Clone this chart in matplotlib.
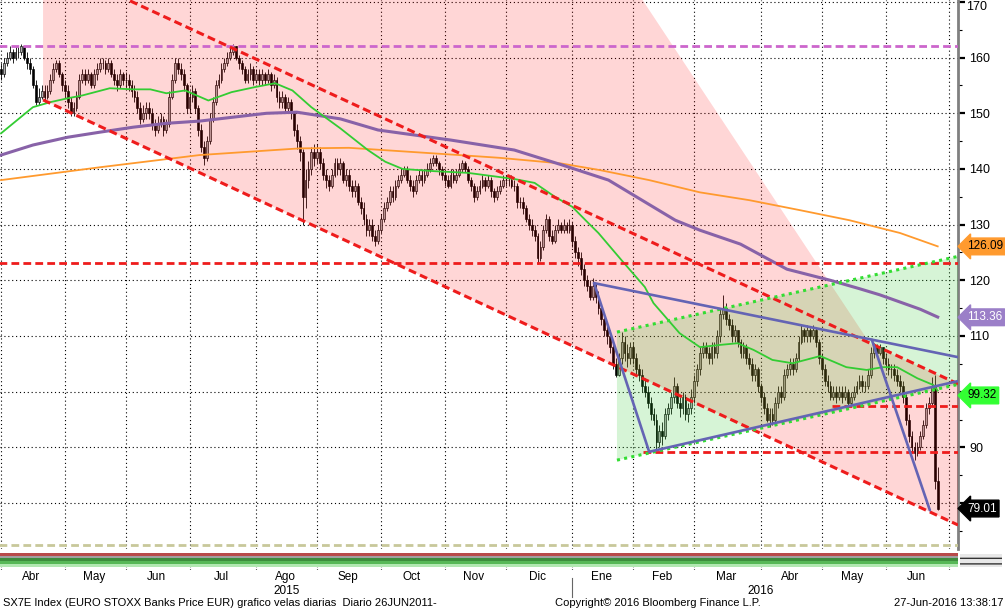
import numpy as np
import pandas as pd
import matplotlib
matplotlib.use("Agg")
import matplotlib.pyplot as plt
from matplotlib.patches import Polygon, Rectangle
from matplotlib.lines import Line2D
from matplotlib.transforms import blended_transform_factory

plt.rcParams['font.family'] = ['Liberation Sans', 'DejaVu Sans']

# sesiones diarias 01-abr-2015 .. 27-jun-2016
dias = pd.bdate_range('2015-04-01', '2016-06-27')

# velas (abr15 .. jun16)
aperturas = [
    158,157,159,160,161,160,161,161,162,160,159,158,155,152,153,154,153,154,156,158,159,157,
    155,154,152,150,151,153,156,157,156,157,155,157,158,159,159,158,159,157,156,155,157,
    156,156,155,154,153,151,149,150,151,150,148,147,148,149,147,148,153,156,159,158,157,155,
    151,153,154,151,147,144,142,145,149,152,155,156,158,159,160,161,162,160,159,158,156,157,158,
    156,157,156,157,156,157,155,156,153,152,153,151,152,150,147,145,143,135,138,140,143,
    142,143,141,139,138,137,139,141,140,141,138,139,137,136,137,134,133,131,129,130,128,127,
    129,131,133,134,136,135,137,138,139,140,138,137,136,138,139,138,139,140,141,142,141,140,
    139,138,137,139,138,139,140,141,140,138,137,135,136,137,138,137,138,136,135,136,137,
    138,138,138,137,137,134,134,133,131,130,129,128,124,126,129,131,128,127,129,130,129,130,129,
    130,127,125,124,122,120,119,117,119,117,115,113,111,110,108,105,103,106,109,107,106,
    108,106,104,103,101,100,98,96,95,91,93,92,96,97,99,101,98,97,99,96,97,
    99,102,104,107,108,107,106,108,107,110,114,115,113,112,110,111,109,107,108,106,105,103,104,
    101,99,97,95,96,95,98,100,99,103,104,105,104,106,109,111,110,111,110,111,109,
    106,104,102,101,99,100,99,100,99,100,98,99,100,101,102,101,101,103,107,108,107,108,
    106,105,104,104,103,102,101,99,95,92,90,89,90,92,94,97,98,101,84,
]
maximos = [
    159,160,161,162,161.5,162,162,162.5,162,161,160,158.5,156,154.5,155,155,155,157,159,159.5,159.5,157.5,
    156,155,153,152,154,157,158,158,158,157.5,158,159,160,160,159.5,160,159.5,158,157,158,157.5,
    157.5,157,156,155,154,152,151.5,152,152,151,149,149.5,150,149.5,149,154,157,160,160,159,158,155.5,
    154,155,154.5,151.5,148,145,146,150,153,156,157,159,160,161,162,162.5,162,160.5,159.5,158.5,158,159,158.5,
    158,158,158,157.5,158,157.5,157,156.5,154,154,153.5,153,152.5,150.5,148,146,143.5,140,141.5,144,144.5,
    144.5,144,142,140,139,140,142,142,142,141.5,140,140,138,138,137.5,135,134,132,131,131,129,130,
    132,134,135,137,137,138,139,140,140.5,140.5,139,138,139,140,140,140,141,142,142.5,142.5,141.5,140.5,
    140,139,140,140,140,141,141.6,141.5,140.5,138.5,137.5,137,138,139,138.5,139,138.5,136.5,137,138,139,
    139,139,139,138,137.5,135,135,133.5,132,131,130,128.5,127,130,132,131.5,129,130,131,130.5,131,130.5,131,
    130.5,128,126,125,123,121,120,120.5,119.5,118,116,114,112,111,109,106,107,110.7,110,108.5,109,
    109,107,105,104,102.5,101,99,97,96,94,94.5,97,98,100,102.6,101.5,99,100,99.5,98,100.5,
    103,105,108,109,109,108,109,109,111,115,117.3,116,114,113,112,111,109.5,109,108.5,107,106,105,104.5,
    101.5,100,98,97,97,99,101,101,104,105,106,106,107,110,112,111.5,112,111.5,112,111.5,109.5,
    107,105,103,102,101,101,101,101,101,100.5,100,101,102,103,103,102,104,108,108.7,108.5,108.5,108,
    107,106,105,105,104,103,102,99.5,96,93,91,91,93,95,98,99,102.6,103,86.5,
]
minimos = [
    156,156.5,158.5,159.5,159,159.5,160,160.5,159.5,158,157,154.5,151.5,151.5,152.5,152,152.5,153.5,155.5,157.5,156.5,154,
    153,151,149.5,149.5,150.5,152.5,155.5,155,155.5,154.5,154.5,156,157.5,158,157,157.5,156.5,155,154,154.5,155,
    154.5,154,153,152,150,148,148.5,149,149,147,146,146.5,147.5,146,146.5,147.5,152.5,155.5,157,156,154,150,
    150,152,150,146,143,140.7,141.5,144.5,148.5,151.5,154.5,155.5,157.5,158.5,159.5,160.5,159.5,158,157,155.5,155.5,156,155,
    155.5,155,155,155,155.5,154,154.5,152,151,151,150,150.5,149,146,143.5,141.5,130,133,136.5,139,140.5,
    141,140,138,136.5,136,136.5,138.5,139,139,137.5,137,136,135,135,133.5,132,130,128,128,127,126.2,126.5,
    128.5,130.5,132.5,133.5,134,134.5,136.5,137.5,138.5,137.5,136,135,135.5,137.5,137,137.5,138.5,139.5,140.5,140.5,139,138,
    137,136.5,136.5,137.5,137.5,138.5,139.5,139.5,137.5,136,134,134.5,135.5,136.5,136,136.5,135,134,134.5,135.5,136.5,
    137,137,136.5,136,133,133,132,130.5,129,128,127,123,123.5,125.5,128.5,127,126.5,126.7,128.5,128.5,128.5,128.5,128.5,
    126,124,122.5,121,119,118,116.5,116.5,116,114,112,110,108.5,107,104,102.6,102.8,105,105.5,104.5,105,
    105,103,102,100,99,97,95,94,89.5,90,90.5,91.5,95,96,98,97,95.5,96,95,94.5,96,
    98,101,103,106,106,105,105,106,106,109,113,112,111,109,109,108,106,106,105,104,102,102,100,
    98,96,94.5,93.7,94,94.5,97,98,98.5,102.5,103,103,103.5,105.5,108.5,109,109,109,109.5,108,105,
    103,101,100,98.5,98.5,98,98.5,98,98.5,97.5,97.5,98.5,99.5,100.5,100,100,100.5,102.5,106,106,106.5,105,
    104,103,102.5,102,101,100,98,94,91,89,87.7,88.5,89.5,91.5,93.5,96,97.5,82.5,78.8,
]
cierres = [
    157,159,160,161,160,161,161,162,160,159,158,155,152,153,154,153,154,156,158,159,157,155,
    154,152,150,151,153,156,157,156,157,155,157,158,159,159,158,159,157,156,155,157,156,
    156,155,154,153,151,149,150,151,150,148,147,148,149,147,148,153,156,159,158,157,155,151,
    153,154,151,147,144,142,145,149,152,155,156,158,159,160,161,162,160,159,158,156,157,158,156,
    157,156,157,156,157,155,156,153,152,153,151,152,150,147,145,143,135,138,140,143,142,
    143,141,139,138,137,139,141,140,141,138,139,137,136,137,134,133,131,129,130,128,127,129,
    131,133,134,136,135,137,138,139,140,138,137,136,138,139,138,139,140,141,142,141,140,139,
    138,137,139,138,139,140,141,140,138,137,135,136,137,138,137,138,136,135,136,137,138,
    138,138,137,137,134,134,133,131,130,129,128,124,126,129,131,128,127,129,130,129,130,129,130,
    127,125,124,122,120,119,117,119,117,115,113,111,110,108,105,103,106,109,107,106,108,
    106,104,103,101,100,98,96,95,91,93,92,96,97,99,101,98,97,99,96,97,99,
    102,104,107,108,107,106,108,107,110,114,115,113,112,110,111,109,107,108,106,105,103,104,101,
    99,97,95,96,95,98,100,99,103,104,105,104,106,109,111,110,111,110,111,109,106,
    104,102,101,99,100,99,100,99,100,98,99,100,101,102,101,101,103,107,108,107,108,106,
    105,104,104,103,102,101,99,95,92,90,89,90,92,94,97,98,101,84,79.01,
]

# medias moviles (indice de sesion, precio)
mm50_x = [0,11,17,23,28,37.5,45.5,51.5,57,63.5,71.5,79.5,87.5,94.5,100.5,107,117,126.5,132.5,138.5,
          149.5,161,177,184,191,197,202.5,206,214,222,225,230,234,241,248,254,259.5,266,273,282.5,
          291.5,298.5,304,309,316,321.5,323]
mm50_y = [146.4,151.1,152,152.7,153.2,154.5,154.3,154.3,153.6,154.1,152.3,153.8,154.7,155.4,154.1,
          151.1,147.3,143.4,141.3,140,139.6,139.3,138.2,137.5,135,133.2,130.3,128.5,123.6,118.8,
          115.9,112.9,110.5,108,108.4,108.7,107.5,105.7,105.1,106.4,104.4,103.9,104.4,104.4,102.4,
          101.2,100.2]
mm100_x = [0,11,23,34,45.5,57,68.5,80,91.5,102,117,130,155,177,193,209.5,232.5,241,255,271,286,
           296,303,310,317,323]
mm100_y = [142.5,144.3,145.7,146.6,147.5,148.2,148.6,149.3,150,150.2,149,147,145.2,143.4,140.8,
           138,130.8,129,126.5,122,120,118.5,117.4,116.1,114.8,113.4]
mm200_x = [0,34,68.5,103,120,137.5,155,172,193,206.5,223.5,241,258,275.5,292.5,310,323]
mm200_y = [138,140.3,142.5,143.7,143.8,143.2,142.6,142,141,139.8,138,135.8,134.4,132.6,130.8,
           128.5,126.1]

# trazos del analista (indice de sesion, precio)
canal_sup = ([44.5, 330.0], [170.2, 101.4])
canal_inf = ([14.5, 330.0], [152.4, 76.05])
tri_sup = ([204.5, 330.0], [119.5, 106.2])
tri_izq = ([204.5, 223.5], [119.5, 89.2])
tri_inf = ([223.5, 330.0], [89.2, 101.9])
caida = ([300.3, 320.3], [109.3, 78.7])
verde_sup = ([212.4, 330.0], [110.7, 124.3])
verde_inf = ([212.4, 330.0], [87.7, 101.3])
zona_rosa = [(14.5, 171), (220.4, 171), (299.7, 108.6), (330, 101.4), (330, 76.05), (14.5, 152.4)]
zona_verde = [(212.4, 110.7), (330, 124.3), (330, 101.3), (212.4, 87.7)]
niveles = [(162.1, -1, '#cc66cc'), (123.1, -1, '#ee1c1c'), (97.4, 286.7, '#ee1c1c'),
           (89.2, 221.5, '#ee1c1c'), (72.4, -1, '#c8c89a')]
etiquetas = [(126.09, '#ff9a2e', 'black'), (113.36, '#9b7fc8', 'white'),
             (99.32, '#33ff33', 'black'), (79.01, 'black', 'white')]
marcas_y = [90, 110, 120, 130, 140, 150, 160]
meses = ['Abr', 'May', 'Jun', 'Jul', 'Ago', 'Sep', 'Oct', 'Nov', 'Dic',
         'Ene', 'Feb', 'Mar', 'Abr', 'May', 'Jun']

n = len(cierres)
x = np.arange(n)
o = np.array(aperturas, float)
c = np.array(cierres, float)
h = np.maximum(np.array(maximos, float), np.maximum(o, c))
l = np.minimum(np.array(minimos, float), np.minimum(o, c))

W, H = 1005, 610
fig = plt.figure(figsize=(W / 100, H / 100), dpi=100)
ax = fig.add_axes([0, 1 - 549 / H, 958 / W, 549 / H])
ax.set_xlim(-0.35, 330)
ax.set_ylim(71.74, 170.35)

# velas
ax.vlines(x, l, h, color='black', lw=0.6, zorder=2)
sube = c >= o
ax.bar(x[sube], (c - o)[sube], bottom=o[sube], width=0.62, color='#b0b0b0',
       edgecolor='black', lw=0.45, zorder=2)
ax.bar(x[~sube], (c - o)[~sube], bottom=o[~sube], width=0.62, color='black',
       edgecolor='black', lw=0.45, zorder=2)

# zonas sombreadas
ax.add_patch(Polygon(zona_rosa, closed=True, fc=(1, 0, 0), alpha=0.16, ec='none', zorder=3))
ax.add_patch(Polygon(zona_verde, closed=True, fc=(0.2, 0.8, 0.2), alpha=0.2, ec='none', zorder=3))

# medias
ax.plot(mm200_x, mm200_y, color='#ff9a2e', lw=1.3, zorder=4)
ax.plot(mm100_x, mm100_y, color='#8862a8', lw=2.2, zorder=4)
ax.plot(mm50_x, mm50_y, color='#33cc33', lw=1.3, zorder=4)

# niveles horizontales
for val, x0, col in niveles:
    ax.plot([x0, 330], [val, val], color=col, lw=2.0, dashes=(2.8, 1.5), zorder=5)

# canal bajista
for xs, ys in (canal_sup, canal_inf):
    ax.plot(xs, ys, color='#ee1c1c', lw=2.2, dashes=(2.6, 1.4), zorder=5)
# canal verde
for xs, ys in (verde_sup, verde_inf):
    ax.plot(xs, ys, color='#33dd33', lw=2.2, dashes=(1.0, 1.4), zorder=5)
# triangulo
for xs, ys in (tri_sup, tri_izq, tri_inf, caida):
    ax.plot(xs, ys, color='#6464b4', lw=1.9, zorder=6, solid_capstyle='round')

# ejes
meses_ini = pd.bdate_range('2015-04-01', '2016-07-01')
inicio = [i for i in range(len(meses_ini)) if i == 0 or meses_ini[i].month != meses_ini[i - 1].month]
ax.set_xticks(inicio)
ax.tick_params(axis='x', length=0, labelbottom=False)
ax.yaxis.tick_right()
ax.set_yticks(range(80, 171, 10))
ax.set_yticklabels([str(v) if v in marcas_y else '' for v in range(80, 171, 10)])
ax.set_yticks(range(75, 171, 5), minor=True)
ax.tick_params(axis='y', which='major', length=5, width=1.6, pad=3, labelsize=9, colors='black')
ax.tick_params(axis='y', which='minor', length=3, width=0.8)
ax.grid(True, which='major', color='black', lw=0.8, ls=(0, (1, 2.5)), zorder=1)
for s in ('left', 'top', 'bottom'):
    ax.spines[s].set_visible(False)
ax.spines['right'].set_color('#808080')
ax.spines['right'].set_linewidth(2)
fig.text(966 / W, 1 - 7 / H, '170', ha='left', va='center', fontsize=9)

for val, fc, tc in etiquetas:
    ax.annotate(f'{val:.2f}', xy=(1.0, val), xycoords=('axes fraction', 'data'),
                xytext=(6.5, 0), textcoords='offset points', va='center', ha='left',
                fontsize=8.5, color=tc, annotation_clip=False, zorder=10,
                bbox=dict(boxstyle='larrow,pad=0.2', fc=fc, ec=fc))

# franja inferior
ax2 = fig.add_axes([0, 1 - 570 / H, 958 / W, 20 / H], sharex=ax)
ax2.set_ylim(0, 20)
for y0, y1, col in ((14, 17, '#b84a4a'), (12, 14, '#a0a0a0'), (9, 12, '#3d8d3d'),
                    (6, 9, '#57b857'), (3, 6, '#b2e8b2')):
    ax2.axhspan(y0, y1, color=col, lw=0)
ax2.vlines(inicio, 0, 3, color='black', lw=0.8, linestyles=(0, (1, 1.5)))
ax2.axis('off')
fig.add_artist(Rectangle((960 / W, 1 - 567 / H), 42 / W, 13 / H, transform=fig.transFigure,
                         fc='#e8e8e8', ec='#333333', hatch='---', lw=0))

tr = blended_transform_factory(ax.transData, fig.transFigure)
bordes = inicio[:len(meses) + 1]
for k, m in enumerate(meses):
    ax.text((bordes[k] + bordes[k + 1]) / 2 - 0.5, 1 - 577 / H, m, transform=tr,
            ha='center', va='center', fontsize=8.5)
ax.text((bordes[0] + bordes[9]) / 2, 1 - 591 / H, '2015', transform=tr, ha='center', va='center', fontsize=8.5)
ax.text((bordes[9] + bordes[15]) / 2, 1 - 591 / H, '2016', transform=tr, ha='center', va='center', fontsize=8.5)
fig.add_artist(Line2D([bordes[9], bordes[9]], [1 - 578 / H, 1 - 597 / H], transform=tr,
                      color='#666666', lw=0.8))

fig.text(3 / W, 1 - 603 / H, 'SX7E Index (EURO STOXX Banks Price EUR) grafico velas diarias  Diario 26JUN2011-',
         ha='left', va='center', fontsize=8)
fig.text(658 / W, 1 - 603 / H, 'Copyright\u00a9 2016 Bloomberg Finance L.P.', ha='center', va='center', fontsize=8)
fig.text(1003 / W, 1 - 603 / H, '27-Jun-2016 13:38:17', ha='right', va='center', fontsize=8)

fig.savefig('out.png', dpi=100)
